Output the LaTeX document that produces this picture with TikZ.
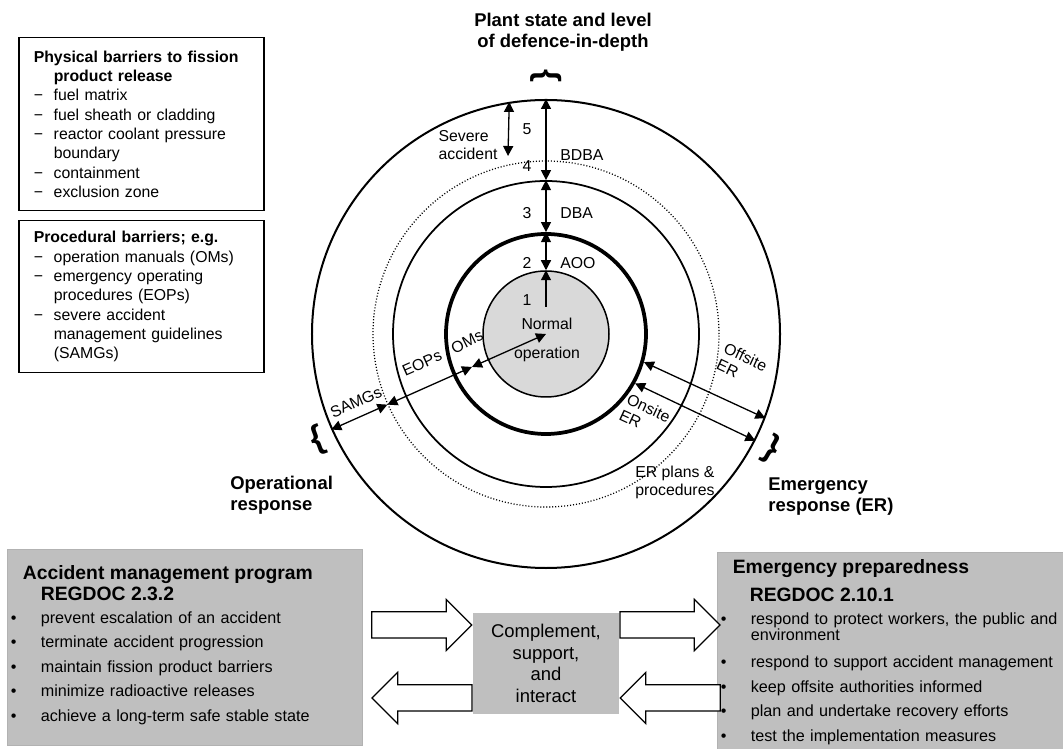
\documentclass[tikz,border=0pt]{standalone}
\usepackage{fontspec}
\setmainfont{Liberation Sans}
\usetikzlibrary{shapes,arrows.meta,positioning,calc}
\definecolor{boxgray}{RGB}{191,191,191}
\definecolor{coregray}{RGB}{217,217,217}
\newcommand{\bardash}{\makebox[4mm][l]{−}}
\newcommand{\bul}{\makebox[6mm][l]{\textbullet}}

\begin{document}
\begin{tikzpicture}[x=0.2mm, y=0.2mm,
    ring/.style={circle, draw, inner sep=0pt, line width=0.35mm},
    barrier/.style={rectangle, draw, line width=0.3mm, anchor=north west, align=left, text width=43mm, inner xsep=3mm, inner ysep=0pt, font=\fontsize{9}{11}\selectfont},
    program/.style={rectangle, draw=black!30, fill=boxgray, anchor=north west, align=left, inner xsep=0.7mm, inner ysep=0pt, font=\fontsize{9.2}{13.9}\selectfont},
    link/.style={rectangle, fill=boxgray, align=center, minimum width=29.2mm, minimum height=20.2mm, font=\fontsize{10.5}{12.3}\selectfont},
    flow/.style={single arrow, draw, fill=white, line width=0.25mm, minimum height=20mm, inner xsep=0pt, inner ysep=2.5mm, single arrow head extend=2.5mm, single arrow tip angle=90},
    arrow/.style={>={Triangle[length=2mm,width=2mm]}, line width=0.26mm},
    lbl/.style={inner sep=0pt, font=\fontsize{9}{10}\selectfont},
    title/.style={inner sep=0pt, align=left, font=\fontsize{10.5}{12}\selectfont\bfseries},
    brace/.style={inner sep=0pt, font=\fontsize{19}{19}\selectfont\bfseries}
  ]
  \useasboundingbox (0,0) rectangle (1063,-749);

  % barrier lists
  \node[barrier, minimum height=34.6mm] (physical) at (18,-37) {\textbf{Physical barriers to fission}\\
    \hspace*{4mm}\textbf{product release}\\
    \bardash fuel matrix\\
    \bardash fuel sheath or cladding\\
    \bardash reactor coolant pressure\\
    \hspace*{4mm}boundary\\
    \bardash containment\\
    \bardash exclusion zone};
  \node[barrier, minimum height=30.4mm] (procedural) at (18,-220) {\textbf{Procedural barriers; e.g.}\\
    \bardash operation manuals (OMs)\\
    \bardash emergency operating\\
    \hspace*{4mm}procedures (EOPs)\\
    \bardash severe accident\\
    \hspace*{4mm}management guidelines\\
    \hspace*{4mm}(SAMGs)};

  % levels of defence-in-depth
  \coordinate (ctr) at (546,-334);
  \node[ring, line width=0.4mm, minimum size=93.6mm] (outer) at (ctr) {};
  \node[ring, line width=0.25mm, dash pattern=on 0.6pt off 1.1pt, minimum size=69.2mm] (edge) at (ctr) {};
  \node[ring, minimum size=61.2mm] (dba) at (ctr) {};
  \node[ring, line width=0.75mm, minimum size=40mm] (aoo) at (ctr) {};
  \node[ring, line width=0.3mm, fill=coregray, minimum size=25.2mm] (core) at (ctr) {};

  \node[lbl, align=center, font=\fontsize{9}{16.4}\selectfont] (normal) at (547,-340) {Normal\\operation};

  \coordinate (sevtip) at (508,-156);
  \coordinate (lvl1) at (546,-307);
  \coordinate (mid) at ($(ctr)+(204:81)$);

  \draw[arrow, <->] (outer.99.3) -- (sevtip);
  \draw[arrow, <->] (outer.north) -- (dba.north);
  \draw[arrow, <->] (dba.north) -- (aoo.north);
  \draw[arrow, <->] (aoo.north) -- (core.north);
  \draw[arrow, ->] (lvl1) -- (core.north);

  \draw[arrow, <->] (outer.204) -- (edge.204);
  \draw[arrow, <->] (edge.204) -- (mid);
  \draw[arrow, <->] (mid) -- (ctr);

  \draw[arrow, <->] (aoo.-16) -- (outer.-21.5);
  \draw[arrow, <->] (aoo.-29.5) -- (outer.-27);

  \node[lbl] (n5) at (527,-129) {5};
  \node[lbl] (n4) at (527,-166) {4};
  \node[lbl] (n3) at (527,-213) {3};
  \node[lbl] (n2) at (527,-263) {2};
  \node[lbl] (n1) at (527,-300) {1};
  \node[lbl, anchor=west] (bdba) at (560,-155) {BDBA};
  \node[lbl, anchor=west] (dbalbl) at (560,-213) {DBA};
  \node[lbl, anchor=west] (aoolbl) at (560,-263) {AOO};
  \node[lbl, align=left] (severe) at (468,-145) {Severe\\accident};

  \node[lbl, rotate=24] (samgs) at (356,-402) {SAMGs};
  \node[lbl, rotate=24] (eops) at (422,-363) {EOPs};
  \node[lbl, rotate=27] (oms) at (467,-342) {OMs};
  \node[lbl, align=left, rotate=-25] (offsite) at (742,-365) {Offsite\\ER};
  \node[lbl, align=left, rotate=-25] (onsite) at (645,-416) {Onsite\\ER};
  \node[lbl, align=left, anchor=north west] (plans) at (635,-466) {ER plans \&\\procedures};

  % headings and braces
  \node[title, align=center, anchor=north] (state) at (563,-13) {Plant state and level\\of defence-in-depth};
  \node[title, anchor=north west] (oper) at (230,-476) {Operational\\response};
  \node[title, anchor=north west] (emer) at (768,-477) {Emergency\\response (ER)};
  \node[brace, rotate=-90] (topbrace) at (546,-76) {\{};
  \node[brace, rotate=20] (leftbrace) at (318,-440) {\{};
  \node[brace, rotate=-30] (rightbrace) at (771,-449) {\}};

  % programs
  \node[program, text width=69.6mm, minimum height=39.2mm] (amp) at (7,-549) {%
    \hspace*{2.4mm}{\fontsize{11}{13}\selectfont\bfseries Accident management program}\\[-2pt]
    \hspace*{6mm}{\fontsize{11}{13}\selectfont\bfseries REGDOC 2.3.2}\\[-0.9pt]
    \bul prevent escalation of an accident\\
    \bul terminate accident progression\\
    \bul maintain fission product barriers\\
    \bul minimize radioactive releases\\
    \bul achieve a long-term safe stable state\rule[-4.5pt]{0pt}{4.5pt}};
  \node[program, text width=71mm, minimum height=40mm, font=\fontsize{9.2}{14.2}\selectfont] (ep) at (717,-552) {%
    \hspace*{2.4mm}{\fontsize{11}{13}\selectfont\bfseries Emergency preparedness}\\[1.8pt]
    \hspace*{5.8mm}{\fontsize{11}{13}\selectfont\bfseries REGDOC 2.10.1}\\[-1.2pt]
    \bul respond to protect workers, the public and\\[-5.1pt]
    \hspace*{6mm}environment\\[1pt]
    \bul respond to support accident management\\
    \bul keep offsite authorities informed\\
    \bul plan and undertake recovery efforts\\
    \bul test the implementation measures};

  \node[link] (cplm) at (546,-663.5) {Complement,\\support,\\and\\interact};

  \node[flow, anchor=tip] (toLink) at (cplm.west |- 0,-625) {};
  \node[flow, anchor=tail] (toEP) at (cplm.east |- 0,-625) {};
  \node[flow, shape border rotate=180, anchor=tail] (toAMP) at (cplm.west |- 0,-698) {};
  \node[flow, shape border rotate=180, anchor=tip] (fromEP) at (cplm.east |- 0,-698) {};
\end{tikzpicture}
\end{document}
